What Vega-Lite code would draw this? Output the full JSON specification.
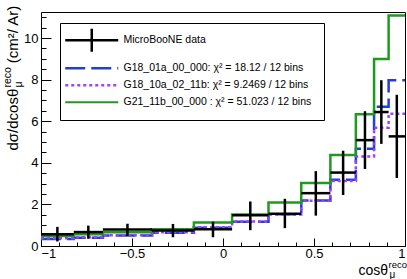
{
  "$schema": "https://vega.github.io/schema/vega-lite/v6.json",
  "width": 364,
  "height": 234,
  "autosize": {"type": "none"},
  "padding": {"left": 41, "top": 12, "right": 2, "bottom": 33},
  "background": "white",
  "title": {"text": "×10⁻³⁹", "anchor": "start", "frame": "group", "orient": "top", "baseline": "alphabetic", "offset": 2, "font": "Liberation Sans", "fontSize": 11, "fontWeight": "normal", "color": "#000"},
  "config": {
    "view": {"stroke": "#000", "strokeWidth": 1},
    "axis": {"grid": false, "domain": false, "labelFont": "Liberation Sans", "labelFontSize": 13, "labelColor": "#000", "tickColor": "#000", "tickWidth": 1, "titleFont": "Liberation Sans", "titleColor": "#000", "titleFontWeight": "normal"},
    "legend": {"labelFont": "Liberation Sans"}
  },
  "datasets": {
    "bins": [
      {"b": 1, "lo": -1.0, "hi": -0.82, "c": -0.91, "d": 0.57, "elo": 0.22, "ehi": 0.92, "G18_01a_00_000": 0.34, "G18_10a_02_11b": 0.37, "G21_11b_00_000": 0.48},
      {"b": 2, "lo": -0.82, "hi": -0.66, "c": -0.74, "d": 0.67, "elo": 0.35, "ehi": 0.98, "G18_01a_00_000": 0.40, "G18_10a_02_11b": 0.42, "G21_11b_00_000": 0.56},
      {"b": 3, "lo": -0.66, "hi": -0.39, "c": -0.525, "d": 0.79, "elo": 0.49, "ehi": 1.07, "G18_01a_00_000": 0.50, "G18_10a_02_11b": 0.52, "G21_11b_00_000": 0.66},
      {"b": 4, "lo": -0.39, "hi": -0.16, "c": -0.275, "d": 0.75, "elo": 0.42, "ehi": 1.06, "G18_01a_00_000": 0.64, "G18_10a_02_11b": 0.66, "G21_11b_00_000": 0.81},
      {"b": 5, "lo": -0.16, "hi": 0.05, "c": -0.055, "d": 0.80, "elo": 0.42, "ehi": 1.17, "G18_01a_00_000": 0.88, "G18_10a_02_11b": 0.90, "G21_11b_00_000": 1.13},
      {"b": 6, "lo": 0.05, "hi": 0.25, "c": 0.15, "d": 1.48, "elo": 0.76, "ehi": 2.14, "G18_01a_00_000": 1.16, "G18_10a_02_11b": 1.18, "G21_11b_00_000": 1.52},
      {"b": 7, "lo": 0.25, "hi": 0.43, "c": 0.34, "d": 1.55, "elo": 0.86, "ehi": 2.27, "G18_01a_00_000": 1.53, "G18_10a_02_11b": 1.52, "G21_11b_00_000": 2.09},
      {"b": 8, "lo": 0.43, "hi": 0.59, "c": 0.51, "d": 2.54, "elo": 1.46, "ehi": 3.60, "G18_01a_00_000": 2.19, "G18_10a_02_11b": 2.17, "G21_11b_00_000": 3.03},
      {"b": 9, "lo": 0.59, "hi": 0.73, "c": 0.66, "d": 3.53, "elo": 2.45, "ehi": 4.58, "G18_01a_00_000": 3.18, "G18_10a_02_11b": 3.12, "G21_11b_00_000": 4.38},
      {"b": 10, "lo": 0.73, "hi": 0.83, "c": 0.78, "d": 5.09, "elo": 3.70, "ehi": 6.48, "G18_01a_00_000": 4.67, "G18_10a_02_11b": 4.30, "G21_11b_00_000": 6.33},
      {"b": 11, "lo": 0.83, "hi": 0.91, "c": 0.87, "d": 6.44, "elo": 4.91, "ehi": 7.97, "G18_01a_00_000": 6.70, "G18_10a_02_11b": 5.69, "G21_11b_00_000": 8.99},
      {"b": 12, "lo": 0.91, "hi": 1.0, "c": 0.955, "d": 5.27, "elo": 3.27, "ehi": 7.27, "G18_01a_00_000": 7.97, "G18_10a_02_11b": 6.36, "G21_11b_00_000": 11.08}
    ]
  },
  "data": {"name": "bins"},
  "layer": [
    {
      "transform": [
        {"fold": ["G18_01a_00_000", "G18_10a_02_11b", "G21_11b_00_000"], "as": ["s", "v"]},
        {"fold": ["lo", "hi"], "as": ["edge", "xp"]}
      ],
      "mark": {"type": "line", "strokeCap": "butt", "strokeJoin": "miter"},
      "encoding": {
        "x": {"field": "xp", "type": "quantitative", "scale": {"domain": [-1, 1], "nice": false, "zero": false},
              "axis": {"orient": "bottom", "values": [-1, -0.5, 0, 0.5, 1], "format": "~g", "tickSize": -8, "labelPadding": 9, "title": "cosθ", "titleFontSize": 14, "titleX": 317, "titleY": 28, "titleAlign": "left", "titleBaseline": "alphabetic", "titleAngle": 0}},
        "y": {"field": "v", "type": "quantitative", "scale": {"domain": [0, 11.25], "nice": false},
              "axis": {"orient": "left", "values": [0, 2, 4, 6, 8, 10], "tickSize": -10, "labelPadding": 13, "title": "dσ/dcosθ\u2003\u2002\u2009(cm²/ Ar)", "titleFontSize": 15, "titleX": -24, "titleY": 138, "titleAlign": "left", "titleBaseline": "alphabetic", "titleAngle": -90}},
        "order": [{"field": "b", "type": "quantitative"}, {"field": "edge", "type": "nominal", "sort": "descending"}],
        "color": {"field": "s", "type": "nominal",
                  "scale": {"domain": ["MicroBooNE data", "G18_01a_00_000", "G18_10a_02_11b", "G21_11b_00_000"], "range": ["#000000", "#1f3fd6", "#a040ff", "#1f9a1f"]},
                  "legend": {
                    "orient": "none", "legendX": 19, "legendY": 11, "title": null,
                    "padding": 12, "rowPadding": 6, "symbolSize": 400, "symbolStrokeWidth": 2.5, "labelOffset": 41,
                    "labelFontSize": 10.5, "labelColor": "#000", "labelLimit": 400,
                    "strokeColor": "#000", "fillColor": "#ffffff",
                    "labelExpr": "(datum.value === 'G18_01a_00_000' ? 'G18_01a_00_000: χ² = 18.12 / 12 bins' : datum.value === 'G18_10a_02_11b' ? 'G18_10a_02_11b: χ² = 9.2469 / 12 bins' : datum.value === 'G21_11b_00_000' ? 'G21_11b_00_000 : χ² = 51.023 / 12 bins' : datum.value) + '\u00a0\u00a0\u00a0\u00a0\u00a0\u00a0'",
                    "encode": {"symbols": {"update": {
                      "shape": {"signal": "datum.value === 'MicroBooNE data' ? 'M-1.2,0H4.1M1.45,-1.15V1.15' : 'M-1.2,0H4.1'"},
                      "strokeDash": {"signal": "datum.value === 'G18_01a_00_000' ? [20,6] : datum.value === 'G18_10a_02_11b' ? [3,3] : [1,0]"},
                      "strokeWidth": {"signal": "datum.value === 'G21_11b_00_000' ? 2 : 2.5"}
                    }}}
                  }},
        "strokeDash": {"field": "s", "type": "nominal", "scale": {"domain": ["G18_01a_00_000", "G18_10a_02_11b", "G21_11b_00_000"], "range": [[20, 6], [3, 3], [1, 0]]}, "legend": null},
        "strokeWidth": {"field": "s", "type": "nominal", "scale": {"domain": ["G18_01a_00_000", "G18_10a_02_11b", "G21_11b_00_000"], "range": [2.5, 2.5, 2]}, "legend": null}
      }
    },
    {
      "mark": {"type": "rule", "strokeWidth": 2.5},
      "encoding": {
        "x": {"field": "lo", "type": "quantitative",
              "axis": {"orient": "bottom", "values": [-0.9, -0.8, -0.7, -0.6, -0.4, -0.3, -0.2, -0.1, 0.1, 0.2, 0.3, 0.4, 0.6, 0.7, 0.8, 0.9], "tickSize": -4, "labels": false, "title": "reco", "titleFontSize": 9.5, "titleX": 347, "titleY": 21, "titleAlign": "left", "titleBaseline": "alphabetic", "titleAngle": 0}},
        "x2": {"field": "hi"},
        "y": {"field": "d", "type": "quantitative",
              "axis": {"orient": "left", "values": [0.5, 1, 1.5, 2.5, 3, 3.5, 4.5, 5, 5.5, 6.5, 7, 7.5, 8.5, 9, 9.5, 10.5, 11], "tickSize": -5, "labels": false, "title": "reco", "titleFontSize": 10.5, "titleX": -31, "titleY": 75, "titleAlign": "left", "titleBaseline": "alphabetic", "titleAngle": -90}},
        "color": {"datum": "MicroBooNE data", "type": "nominal"}
      }
    },
    {
      "mark": {"type": "rule", "strokeWidth": 2.5, "color": "#000"},
      "encoding": {
        "x": {"field": "c", "type": "quantitative",
              "axis": {"orient": "bottom", "ticks": false, "labels": false, "title": "μ", "titleFontSize": 10, "titleX": 348, "titleY": 31.5, "titleAlign": "left", "titleBaseline": "alphabetic", "titleAngle": 0}},
        "y": {"field": "elo", "type": "quantitative",
              "axis": {"orient": "left", "ticks": false, "labels": false, "title": "μ", "titleFontSize": 10.5, "titleX": -20, "titleY": 75, "titleAlign": "left", "titleBaseline": "alphabetic", "titleAngle": -90}},
        "y2": {"field": "ehi"}
      }
    }
  ],
  "resolve": {"axis": {"x": "independent", "y": "independent"}}
}
